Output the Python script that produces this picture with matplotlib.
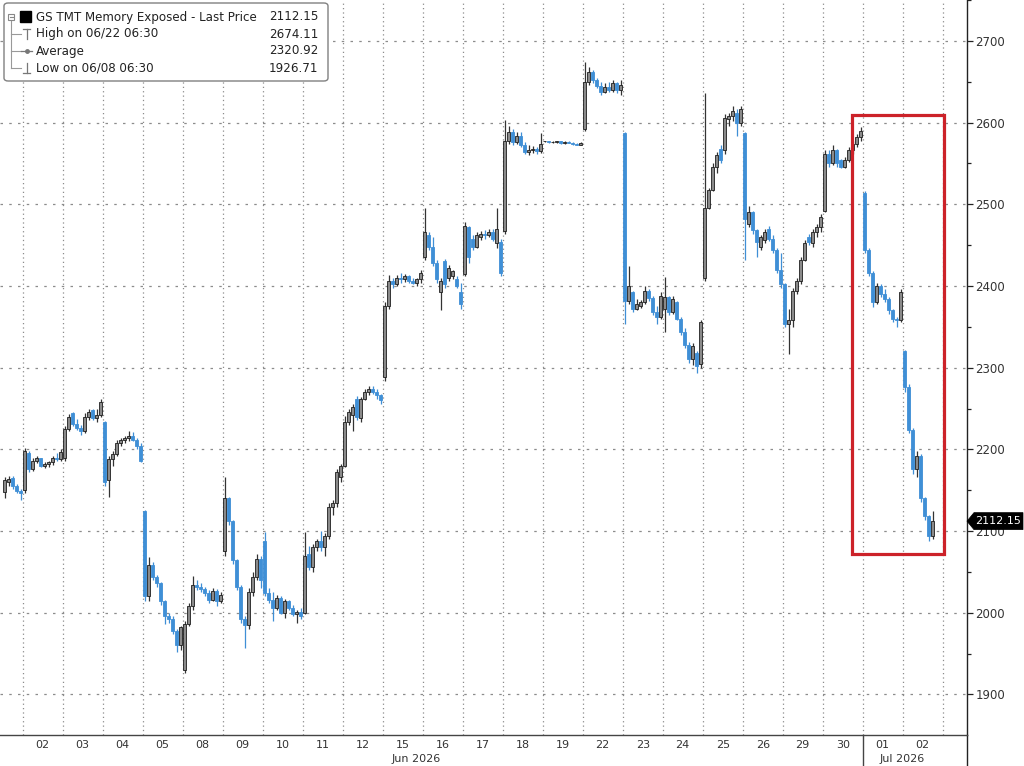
import matplotlib
matplotlib.use('Agg')
import matplotlib.pyplot as plt
import matplotlib.transforms as mtransforms
from matplotlib.patches import FancyBboxPatch, Rectangle, Polygon
from matplotlib.lines import Line2D

plt.rcParams['font.family'] = ['DejaVu Sans']

# ---------------- data (30-min candles: open, high, low, close) ----------------
day_labels = ['02', '03', '04', '05', '08', '09', '10', '11', '12', '15', '16', '17',
              '18', '19', '22', '23', '24', '25', '26', '29', '30', '01', '02']
month_labels = ['Jun 2026', 'Jul 2026']

jun01 = [(2148, 2166, 2140, 2162), (2160, 2168, 2155, 2164), (2165, 2168, 2152, 2155),
         (2155, 2157, 2147, 2149), (2149, 2152, 2138, 2146)]
jun02 = [(2150, 2202, 2146, 2198), (2196, 2198, 2172, 2176), (2176, 2190, 2174, 2186),
         (2186, 2192, 2183, 2189), (2189, 2190, 2178, 2180), (2180, 2185, 2177, 2182),
         (2182, 2186, 2179, 2184), (2184, 2192, 2181, 2190), (2190, 2196, 2186, 2188),
         (2188, 2200, 2186, 2197)]
jun03 = [(2190, 2228, 2186, 2225), (2225, 2243, 2222, 2240), (2244, 2246, 2228, 2231),
         (2231, 2237, 2224, 2226), (2226, 2230, 2218, 2222), (2222, 2244, 2220, 2240),
         (2240, 2249, 2236, 2246), (2248, 2250, 2236, 2238), (2238, 2250, 2234, 2242),
         (2242, 2262, 2240, 2258)]
jun04 = [(2233, 2235, 2155, 2160), (2162, 2192, 2142, 2188), (2188, 2198, 2180, 2194),
         (2194, 2211, 2192, 2208), (2208, 2214, 2204, 2211), (2211, 2216, 2208, 2214),
         (2214, 2222, 2210, 2216), (2216, 2221, 2210, 2212), (2212, 2214, 2200, 2204),
         (2204, 2208, 2184, 2186)]
jun05 = [(2124, 2126, 2015, 2020), (2020, 2068, 2015, 2058), (2058, 2062, 2040, 2044),
         (2044, 2046, 2032, 2036), (2036, 2038, 2010, 2014), (2014, 2016, 1986, 1996),
         (1996, 2000, 1988, 1992), (1992, 1996, 1974, 1978), (1978, 1980, 1952, 1960),
         (1960, 1984, 1954, 1982)]
jun08 = [(1930, 1990, 1926.71, 1986), (1986, 2012, 1984, 2008), (2008, 2045, 2004, 2034),
         (2034, 2040, 2028, 2031), (2031, 2036, 2026, 2029), (2029, 2032, 2020, 2024),
         (2024, 2028, 2012, 2016), (2016, 2030, 2014, 2027), (2027, 2029, 2008, 2014),
         (2014, 2026, 2012, 2022)]
jun09 = [(2075, 2166, 2070, 2140), (2140, 2142, 2108, 2112), (2112, 2114, 2060, 2064),
         (2064, 2066, 2028, 2032), (2032, 2034, 1988, 1992), (1992, 1996, 1957, 1985),
         (1985, 2030, 1980, 2026), (2026, 2050, 2020, 2044), (2044, 2072, 2040, 2066),
         (2066, 2070, 2030, 2040)]
jun10 = [(2088, 2099, 2020, 2024), (2024, 2030, 2012, 2016), (2016, 2026, 1990, 2006),
         (2006, 2022, 2003, 2018), (2018, 2020, 1998, 2000), (2000, 2017, 1994, 2014),
         (2014, 2016, 2003, 2006), (2006, 2010, 1996, 1998), (1998, 2004, 1988, 2001),
         (2001, 2006, 1992, 1996)]
jun11 = [(2000, 2099, 1998, 2070), (2072, 2082, 2052, 2056), (2056, 2084, 2050, 2080),
         (2080, 2090, 2076, 2088), (2088, 2100, 2076, 2080), (2080, 2098, 2070, 2094),
         (2094, 2134, 2090, 2130), (2130, 2138, 2120, 2134), (2134, 2176, 2130, 2172),
         (2166, 2182, 2160, 2180)]
jun12 = [(2180, 2241, 2178, 2234), (2234, 2250, 2230, 2246), (2242, 2256, 2222, 2252),
         (2262, 2265, 2236, 2240), (2238, 2264, 2234, 2262), (2262, 2274, 2260, 2270),
         (2270, 2277, 2266, 2274), (2274, 2278, 2268, 2270), (2270, 2274, 2262, 2266),
         (2266, 2268, 2256, 2260)]
jun15 = [(2288, 2380, 2284, 2376), (2376, 2414, 2372, 2406), (2406, 2410, 2398, 2402),
         (2402, 2413, 2400, 2410), (2410, 2416, 2404, 2408), (2408, 2415, 2405, 2412),
         (2412, 2414, 2404, 2406), (2406, 2410, 2403, 2404), (2404, 2410, 2400, 2408),
         (2408, 2420, 2404, 2416)]
jun16 = [(2436, 2496, 2432, 2466), (2462, 2466, 2444, 2448), (2448, 2460, 2424, 2428),
         (2428, 2432, 2404, 2408), (2392, 2410, 2370, 2406), (2430, 2433, 2398, 2402),
         (2410, 2426, 2406, 2422), (2412, 2420, 2408, 2418), (2408, 2412, 2398, 2400),
         (2392, 2404, 2372, 2378)]
jun17 = [(2415, 2478, 2412, 2474), (2472, 2474, 2428, 2436), (2458, 2462, 2444, 2448),
         (2448, 2466, 2446, 2462), (2460, 2467, 2456, 2464), (2464, 2468, 2458, 2462),
         (2462, 2470, 2460, 2466), (2466, 2470, 2455, 2458), (2452, 2496, 2446, 2470),
         (2454, 2458, 2412, 2416)]
jun18 = [(2467, 2603, 2464, 2578), (2578, 2596, 2574, 2588), (2588, 2592, 2572, 2576),
         (2576, 2588, 2574, 2584), (2584, 2588, 2570, 2572), (2572, 2576, 2562, 2564),
         (2564, 2572, 2560, 2566), (2566, 2571, 2563, 2568), (2568, 2570, 2562, 2565),
         (2565, 2587, 2563, 2574)]
jun19 = [(2577, 2578, 2576, 2577), (2577, 2578, 2575, 2576), (2576, 2577, 2575, 2576),
         (2576, 2578, 2575, 2577), (2577, 2578, 2574, 2575), (2575, 2577, 2574, 2576),
         (2576, 2577, 2575, 2575), (2575, 2576, 2573, 2574), (2574, 2575, 2572, 2573),
         (2573, 2576, 2572, 2575)]
jun22 = [(2592, 2674.11, 2590, 2650), (2650, 2668, 2646, 2662), (2662, 2664, 2648, 2652),
         (2652, 2654, 2642, 2645), (2645, 2650, 2634, 2638), (2638, 2648, 2636, 2644),
         (2644, 2650, 2638, 2640), (2640, 2652, 2638, 2648), (2648, 2650, 2636, 2640),
         (2640, 2652, 2634, 2646)]
jun23 = [(2587, 2589, 2354, 2382), (2382, 2424, 2378, 2400), (2392, 2394, 2368, 2372),
         (2372, 2384, 2370, 2378), (2376, 2383, 2373, 2380), (2380, 2400, 2378, 2394),
         (2394, 2396, 2382, 2385), (2385, 2388, 2364, 2368), (2368, 2376, 2354, 2362),
         (2362, 2392, 2360, 2388)]
jun24 = [(2372, 2411, 2344, 2386), (2386, 2388, 2364, 2368), (2368, 2388, 2366, 2384),
         (2380, 2382, 2358, 2360), (2360, 2362, 2340, 2344), (2344, 2348, 2324, 2328),
         (2328, 2332, 2306, 2310), (2310, 2330, 2303, 2326), (2318, 2320, 2293, 2302),
         (2304, 2358, 2300, 2356)]
jun25 = [(2410, 2636, 2406, 2496), (2496, 2520, 2494, 2518), (2518, 2550, 2516, 2546),
         (2546, 2564, 2538, 2560), (2568, 2572, 2550, 2554), (2566, 2610, 2562, 2606),
         (2604, 2612, 2596, 2608), (2608, 2620, 2602, 2614), (2612, 2616, 2584, 2600),
         (2600, 2620, 2596, 2616)]
jun26 = [(2587, 2589, 2432, 2482), (2476, 2498, 2472, 2490), (2490, 2492, 2464, 2468),
         (2468, 2470, 2436, 2454), (2448, 2462, 2444, 2460), (2456, 2470, 2452, 2466),
         (2470, 2473, 2455, 2458), (2458, 2462, 2440, 2444), (2444, 2446, 2416, 2420),
         (2420, 2440, 2398, 2402)]
jun29 = [(2402, 2404, 2350, 2354), (2354, 2372, 2317, 2358), (2358, 2398, 2350, 2394),
         (2394, 2410, 2390, 2406), (2406, 2436, 2402, 2432), (2432, 2456, 2430, 2452),
         (2460, 2464, 2450, 2454), (2452, 2470, 2448, 2466), (2466, 2476, 2460, 2472),
         (2472, 2488, 2466, 2484)]
jun30 = [(2492, 2566, 2490, 2562), (2562, 2567, 2546, 2550), (2550, 2572, 2548, 2566),
         (2566, 2568, 2546, 2550), (2554, 2556, 2544, 2546), (2546, 2558, 2544, 2554),
         (2554, 2570, 2552, 2566), (2566, 2578, 2562, 2574), (2574, 2586, 2570, 2582),
         (2582, 2595, 2578, 2590)]
jul01 = [(2514, 2516, 2440, 2444), (2444, 2446, 2412, 2416), (2416, 2418, 2374, 2380),
         (2380, 2404, 2378, 2400), (2400, 2402, 2386, 2390), (2390, 2396, 2380, 2384),
         (2384, 2386, 2366, 2370), (2370, 2372, 2356, 2360), (2360, 2362, 2350, 2358),
         (2358, 2396, 2356, 2392)]
jul02 = [(2320, 2322, 2270, 2276), (2276, 2280, 2220, 2224), (2224, 2226, 2170, 2176),
         (2176, 2198, 2166, 2192), (2192, 2194, 2136, 2140), (2140, 2142, 2114, 2118),
         (2118, 2120, 2088, 2094), (2094, 2124, 2090, 2112.15)]

legend_title = 'GS TMT Memory Exposed - Last Price'
legend_rows = ['High on 06/22 06:30', 'Average', 'Low on 06/08 06:30']
legend_values = ['2112.15', '2674.11', '2320.92', '1926.71']
last_price = 2112.15

# --------------------------------------------------------------------------------
W, H = 1024, 766
fig = plt.figure(figsize=(W / 100, H / 100), dpi=100)
fig.patch.set_facecolor('white')

ax_left, ax_right, ax_bottom, ax_top = 0, 967, 735, 0
ax = fig.add_axes([ax_left / W, 1 - ax_bottom / H, (ax_right - ax_left) / W, (ax_bottom - ax_top) / H])

X0, DX = 22.7, 40.0   # pixel of Jun 02 start, pixels per day
ax.set_xlim((0 - X0) / DX, (ax_right - X0) / DX)
ax.set_ylim(1850.4, 2742.4)

N = 10
days = [jun01, jun02, jun03, jun04, jun05, jun08, jun09, jun10, jun11, jun12, jun15, jun16,
        jun17, jun18, jun19, jun22, jun23, jun24, jun25, jun26, jun29, jun30, jul01, jul02]

UP_FACE, UP_EDGE = '#8a8a8a', '#1e1e1e'
DN_COL = '#3f8fd6'

xs, os_, hs, ls, cs = [], [], [], [], []
for d, bars in enumerate(days):
    di = d - 1
    off = N - len(bars) if d == 0 else 0
    for k, (o, h, l, c) in enumerate(bars):
        xs.append(di + (k + off + 0.5) / N)
        os_.append(o); hs.append(h); ls.append(l); cs.append(c)

wick_cols, face_cols, edge_cols, bottoms, heights = [], [], [], [], []
for o, c in zip(os_, cs):
    up = c >= o
    wick_cols.append('#333333' if up else DN_COL)
    face_cols.append(UP_FACE if up else DN_COL)
    edge_cols.append(UP_EDGE if up else DN_COL)
    bottoms.append(min(o, c))
    heights.append(max(abs(c - o), 0.6))

ax.vlines(xs, ls, hs, colors=wick_cols, linewidth=0.9, zorder=3)
ax.bar(xs, heights, bottom=bottoms, width=0.068, color=face_cols, edgecolor=edge_cols,
       linewidth=0.6, zorder=4)

# grid
for v in range(1900, 2701, 100):
    ax.axhline(v, color='#8c8c8c', linewidth=0.9, linestyle=(0, (2, 5)), zorder=1)
for i in range(0, 24):
    ax.axvline(i, color='#8c8c8c', linewidth=0.9, linestyle=(0, (1, 2.5)), zorder=1)

# axes styling
for s in ['top', 'left']:
    ax.spines[s].set_visible(False)
ax.spines['right'].set_color('#222222')
ax.spines['bottom'].set_color('#444444')
ax.spines['right'].set_linewidth(1.0)
ax.spines['bottom'].set_linewidth(1.0)

ax.yaxis.tick_right()
ax.set_yticks(range(1900, 2701, 100))
ax.set_yticks(range(1900, 2751, 50), minor=True)
ax.tick_params(axis='y', which='major', length=4.5, width=0.9, pad=1.5, colors='#222222',
               labelsize=8.5, labelcolor='#333333')
ax.tick_params(axis='y', which='minor', length=3, width=0.9, colors='#222222')

ax.set_xticks([i + 0.5 for i in range(len(day_labels))])
ax.set_xticklabels(day_labels)
ax.tick_params(axis='x', length=0, pad=3.5, labelsize=8, labelcolor='#333333')

# month labels and separator
trans = mtransforms.blended_transform_factory(ax.transData, ax.transAxes)
ax.text((416 - X0) / DX, -24 / 735, month_labels[0], transform=trans, ha='center', va='center',
        fontsize=8, color='#333333')
ax.text((902 - X0) / DX, -24 / 735, month_labels[1], transform=trans, ha='center', va='center',
        fontsize=8, color='#333333')
ax.add_line(Line2D([21, 21], [0, -31 / 735], transform=trans, color='#444444', linewidth=1.0,
                   clip_on=False))
ax.add_line(Line2D([1, 1], [0, -31 / 735], transform=ax.transAxes, color='#222222',
                   linewidth=1.0, clip_on=False))

# red highlight rectangle
ax.add_patch(Rectangle((20.73, 2072.5), 23.03 - 20.73, 2608.9 - 2072.5, fill=False,
                       edgecolor='#cc2229', linewidth=2.3, zorder=6))

# ---------------- figure-pixel helpers ----------------
def fx(x):
    return x / W

def fy(y):
    return 1 - y / H

# last price tag (arrow-shaped black box at the right axis)
py = ax.transData.transform((0, last_price))[1]
tag_y = H - py
fig.add_artist(Polygon([(fx(967), fy(tag_y)), (fx(974), fy(tag_y - 8.5)), (fx(1023), fy(tag_y - 8.5)),
                        (fx(1023), fy(tag_y + 8.5)), (fx(974), fy(tag_y + 8.5))],
                       closed=True, facecolor='black', edgecolor='black', linewidth=0.5,
                       transform=fig.transFigure, zorder=30))
fig.text(fx(998.5), fy(tag_y), f'{last_price:.2f}', ha='center', va='center', fontsize=8,
         color='white', zorder=31)

# ---------------- legend box ----------------
fig.add_artist(FancyBboxPatch((fx(4), fy(81)), fx(324), 78 / H,
                              boxstyle='round,pad=0,rounding_size=0.004',
                              facecolor='white', edgecolor='#808080', linewidth=1.0,
                              transform=fig.transFigure, zorder=20))
rows_y = [17, 34, 51, 68]
fig.add_artist(Rectangle((fx(8), fy(20)), 6 / W, 6 / H, fill=False, edgecolor='#888888',
                         linewidth=0.8, transform=fig.transFigure, zorder=21))
fig.add_artist(Line2D([fx(9.5), fx(12.5)], [fy(17), fy(17)], color='#888888', linewidth=0.8,
                      transform=fig.transFigure, zorder=21))
fig.add_artist(Rectangle((fx(20), fy(22)), 11 / W, 11 / H, facecolor='black', edgecolor='black',
                         transform=fig.transFigure, zorder=21))
fig.add_artist(Line2D([fx(11), fx(11)], [fy(21), fy(68)], color='#999999', linewidth=0.8,
                      transform=fig.transFigure, zorder=21))
for ry in rows_y[1:]:
    fig.add_artist(Line2D([fx(11), fx(21)], [fy(ry), fy(ry)], color='#999999', linewidth=0.8,
                          transform=fig.transFigure, zorder=21))
sym = dict(color='#777777', linewidth=0.9, transform=fig.transFigure, zorder=22)
fig.add_artist(Line2D([fx(23), fx(30)], [fy(29), fy(29)], **sym))
fig.add_artist(Line2D([fx(26.5), fx(26.5)], [fy(29), fy(39)], **sym))
fig.add_artist(Line2D([fx(21), fx(32)], [fy(51), fy(51)], **sym))
fig.add_artist(Line2D([fx(26.5)], [fy(51)], marker='o', markersize=2.5, color='#777777',
                      transform=fig.transFigure, zorder=22))
fig.add_artist(Line2D([fx(26.5), fx(26.5)], [fy(63), fy(73)], **sym))
fig.add_artist(Line2D([fx(23), fx(30)], [fy(73), fy(73)], **sym))

labels = [legend_title] + legend_rows
for ry, lab, val in zip(rows_y, labels, legend_values):
    fig.text(fx(36), fy(ry), lab, ha='left', va='center', fontsize=8.6, color='#222222',
             zorder=23)
    fig.text(fx(318), fy(ry), val, ha='right', va='center', fontsize=8.6, color='#222222',
             zorder=23)

fig.savefig('out.png', dpi=100)
